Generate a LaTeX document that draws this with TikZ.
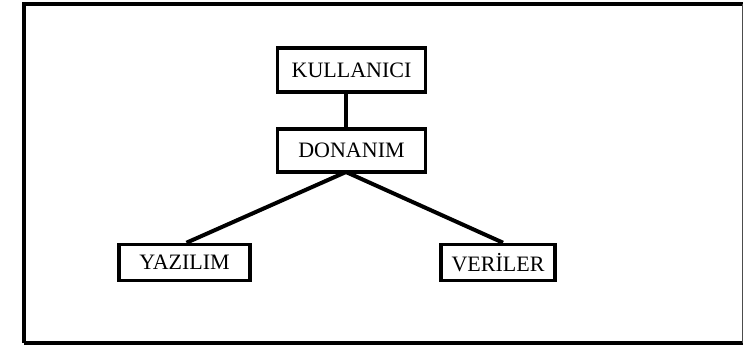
\documentclass[tikz,border=0pt]{standalone}
\usepackage{fontspec}
\setmainfont{Liberation Serif}
\begin{document}
\begin{tikzpicture}[x=1pt,y=-1pt,
  box/.style={draw=black,line width=3.6pt,fill=white,inner sep=0pt,font=\fontsize{22}{24}\selectfont},
  link/.style={draw=black,line width=4pt}]
\useasboundingbox (0,0) rectangle (744,346);
% outer frame
\draw[line width=4pt] (24,343) -- (24,4) -- (743,4);
\draw[line width=3.5pt] (24,343) -- (743,343);
\draw[line width=1.5pt,black!70] (742.5,4) -- (742.5,343);
\coordinate (j) at (346,172);
\node[box,minimum width=148pt,minimum height=44pt] (K) at (351.5,70) {KULLANICI};
\node[box,minimum width=148pt,minimum height=43pt] (D) at (351.5,150.5) {DONANIM};
\node[box,minimum width=131pt,minimum height=36pt] (Y) at (184.5,262.5) {YAZILIM};
\node[box,minimum width=114pt,minimum height=36pt] (V) at (498,262.5) {VERİLER};
\draw[link] (K.south -| j) -- (D.north -| j);
\draw[link] (j) -- ([xshift=2pt]Y.north);
\draw[link] (j) -- ([xshift=5pt]V.north);
\end{tikzpicture}
\end{document}
